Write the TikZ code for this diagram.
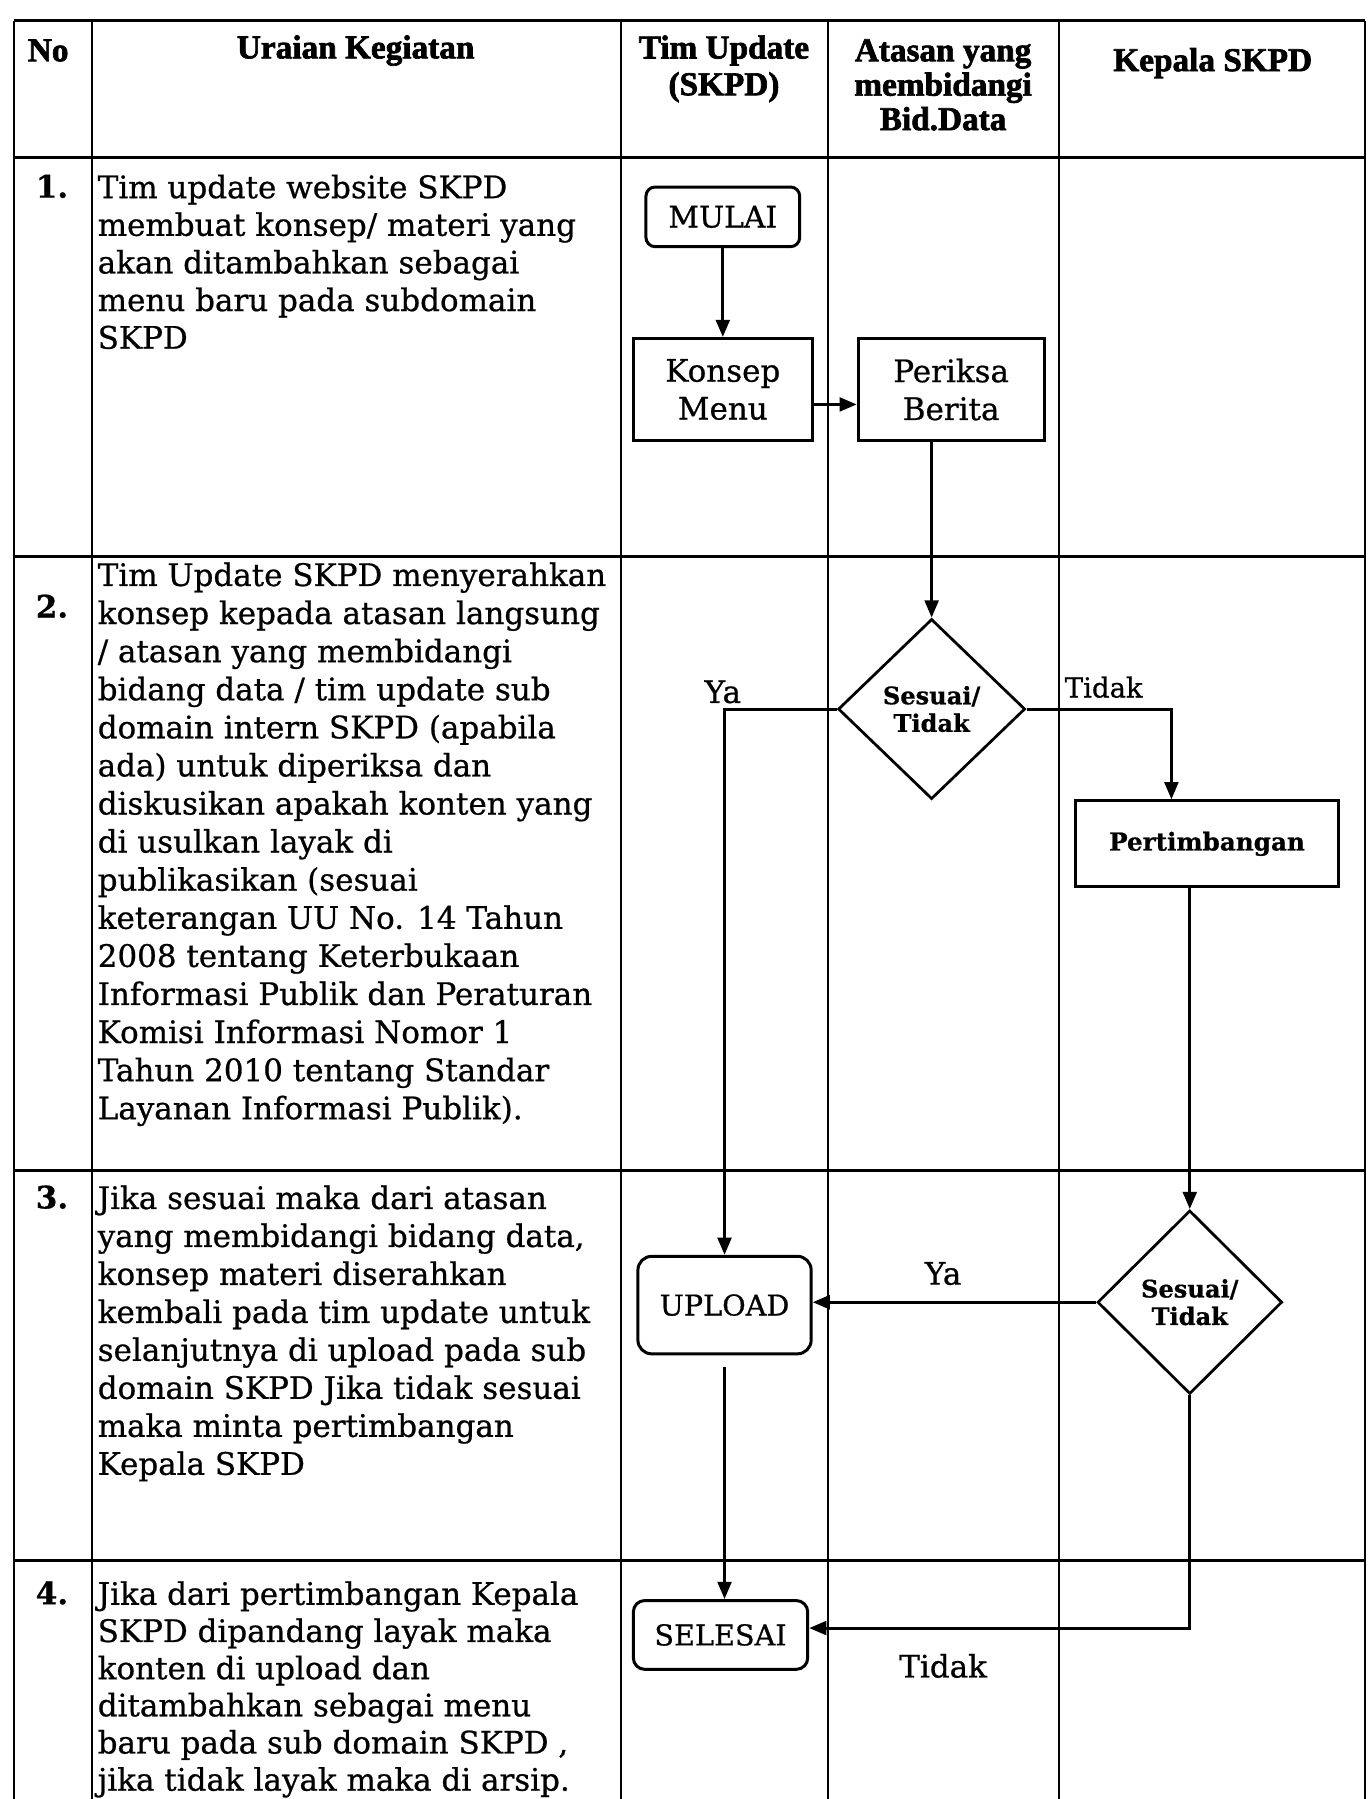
\documentclass[tikz,border=0pt]{standalone}
\usepackage{fontspec}
\setmainfont{DejaVu Serif}[FakeBold=0.7]
\newfontfamily\hdrfont{Liberation Serif}[BoldFeatures={FakeBold=2}]
\usetikzlibrary{arrows.meta,shapes.geometric}
\begin{document}
\begin{tikzpicture}[x=1pt,y=-1pt,
  tblv/.style={line width=1.6pt},
  tblh/.style={line width=2.4pt},
  hdr/.style={font=\hdrfont\bfseries\fontsize{29}{31}\selectfont, align=center, inner sep=0pt},
  num/.style={font=\bfseries\fontsize{27}{33}\selectfont, anchor=north west, inner sep=0pt},
  desc/.style={font=\fontsize{27}{33.2}\selectfont, anchor=north west, align=left, inner sep=0pt},
  procbox/.style={draw, line width=2.6pt, align=center, inner sep=0pt, font=\fontsize{27}{33}\selectfont},
  termbox/.style={draw, line width=2.6pt, rounded corners=10pt, align=center, inner sep=0pt, font=\fontsize{25}{30}\selectfont},
  decis/.style={draw, diamond, line width=2.4pt, inner sep=0pt, align=center, font=\bfseries\fontsize{21}{24}\selectfont},
  lbl/.style={inner sep=0pt, font=\fontsize{27}{30}\selectfont},
  arr/.style={line width=2.6pt, -{Triangle[length=15pt,width=12pt]}}
]
\useasboundingbox (0,0) rectangle (1193,1568);
% table
\draw[line width=3pt] (12,18) -- (1190,18);
\foreach \xx in {12,80,541,722,923,1190} {\draw[tblv] (\xx,18) -- (\xx,1568);}
\foreach \yy in {137,485,1020,1360} {\draw[tblh] (12,\yy) -- (1190,\yy);}
% headers
\node[hdr] (hno) at (42,44) {No};
\node[hdr] (hur) at (310,44) {Uraian Kegiatan};
\node[hdr, font=\hdrfont\bfseries\fontsize{29}{32}\selectfont] (htim) at (631,60) {Tim Update\\(SKPD)};
\node[hdr, font=\hdrfont\bfseries\fontsize{29}{30}\selectfont] (hat) at (822,74) {Atasan yang\\membidangi\\Bid.Data};
\node[hdr] (hkep) at (1057,55) {Kepala SKPD};
% numbers
\node[num] (n1) at (31,152) {1.};
\node[num] (n2) at (31,518) {2.};
\node[num] (n3) at (31,1033) {3.};
\node[num] (n4) at (31,1378) {4.};
% descriptions
\node[desc, font=\fontsize{27}{32.8}\selectfont] (t1) at (85,152) {Tim update website SKPD\\membuat konsep/ materi yang\\akan ditambahkan sebagai\\menu baru pada subdomain\\SKPD};
\node[desc] (t2) at (85,490) {Tim Update SKPD menyerahkan\\konsep kepada atasan langsung\\/ atasan yang membidangi\\bidang data / tim update sub\\domain intern SKPD (apabila\\ada) untuk diperiksa dan\\diskusikan apakah konten yang\\di usulkan layak di\\publikasikan (sesuai\\keterangan UU No. 14 Tahun\\2008 tentang Keterbukaan\\Informasi Publik dan Peraturan\\Komisi Informasi Nomor 1\\Tahun 2010 tentang Standar\\Layanan Informasi Publik).};
\node[desc, font=\fontsize{27}{33.1}\selectfont] (t3) at (85,1033) {Jika sesuai maka dari atasan\\yang membidangi bidang data,\\konsep materi diserahkan\\kembali pada tim update untuk\\selanjutnya di upload pada sub\\domain SKPD Jika tidak sesuai\\maka minta pertimbangan\\Kepala SKPD};
\node[desc, font=\fontsize{27}{32.4}\selectfont] (t4) at (85,1378) {Jika dari pertimbangan Kepala\\SKPD dipandang layak maka\\konten di upload dan\\ditambahkan sebagai menu\\baru pada sub domain SKPD ,\\jika tidak layak maka di arsip.};
% flow nodes
\node[termbox, minimum width=134pt, minimum height=52pt, rounded corners=8pt, font=\fontsize{26}{30}\selectfont] (mulai) at (630,189) {MULAI};
\node[procbox, minimum width=156pt, minimum height=89pt] (konsep) at (630,339.5) {Konsep\\Menu};
\node[procbox, minimum width=162pt, minimum height=89pt] (periksa) at (829,339.5) {Periksa\\Berita};
\node[decis, minimum width=163pt, minimum height=157pt] (d1) at (812,618) {Sesuai/\\Tidak};
\node[procbox, minimum width=229pt, minimum height=75pt, font=\bfseries\fontsize{21.5}{25}\selectfont] (pert) at (1052,735.5) {Pertimbangan};
\node[decis, minimum width=161pt, minimum height=160pt] (d2) at (1037,1135) {Sesuai/\\Tidak};
\node[termbox, minimum width=151pt, minimum height=85pt, rounded corners=12pt] (upload) at (631.5,1137.5) {UPLOAD};
\node[termbox, minimum width=152pt, minimum height=60pt] (selesai) at (628,1425) {SELESAI};
% labels
\node[lbl] (ya1) at (630,603) {Ya};
\node[lbl, font=\fontsize{24}{28}\selectfont] (td1) at (962,599) {Tidak};
\node[lbl] (ya2) at (822,1110) {Ya};
\node[lbl] (td2) at (822,1452) {Tidak};
% connectors
\draw[arr] (mulai.south) -- (konsep.north);
\draw[arr] ([yshift=-13pt]konsep.east) -- ([yshift=-13pt]periksa.west);
\draw[arr] (periksa.south -| d1.north) -- (d1.north);
\draw[arr] (d1.west) -| (upload.north);
\draw[arr] (d1.east) -| ([xshift=-31pt]pert.north);
\draw[arr] (pert.south -| d2.north) -- (d2.north);
\draw[arr] (d2.west) -- (d2.west -| upload.east);
\draw[arr] ([yshift=-10pt]upload.south) -- (upload.south |- selesai.north);
\draw[arr] (d2.south) |- ([yshift=6pt]selesai.east);
\end{tikzpicture}
\end{document}
